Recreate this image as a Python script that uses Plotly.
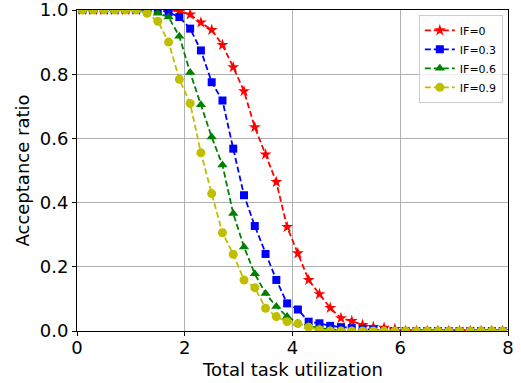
import plotly.graph_objects as go

x_util = [0.1, 0.3, 0.5, 0.7, 0.9, 1.1, 1.3, 1.5, 1.7, 1.9,
          2.1, 2.3, 2.5, 2.7, 2.9, 3.1, 3.3, 3.5, 3.7, 3.9,
          4.1, 4.3, 4.5, 4.7, 4.9, 5.1, 5.3, 5.5, 5.7, 5.9,
          6.1, 6.3, 6.5, 6.7, 6.9, 7.1, 7.3, 7.5, 7.7, 7.9]

if_0 = [1.0, 1.0, 1.0, 1.0, 1.0, 1.0, 1.0, 1.0, 1.0, 0.995,
        0.986, 0.961, 0.938, 0.891, 0.822, 0.747, 0.635, 0.550, 0.464, 0.324,
        0.242, 0.159, 0.115, 0.072, 0.040, 0.031, 0.019, 0.013, 0.010, 0.006,
        0.0, 0.0, 0.0, 0.0, 0.0, 0.0, 0.0, 0.0, 0.0, 0.0]

if_03 = [1.0, 1.0, 1.0, 1.0, 1.0, 1.0, 1.0, 1.0, 0.993, 0.978,
         0.942, 0.874, 0.775, 0.718, 0.568, 0.423, 0.327, 0.240, 0.159, 0.086,
         0.067, 0.029, 0.024, 0.016, 0.012, 0.009, 0.006, 0.004, 0.0, 0.0,
         0.0, 0.0, 0.0, 0.0, 0.0, 0.0, 0.0, 0.0, 0.0, 0.0]

if_06 = [1.0, 1.0, 1.0, 1.0, 1.0, 1.0, 1.0, 0.990, 0.978, 0.918,
         0.805, 0.705, 0.604, 0.517, 0.366, 0.262, 0.178, 0.117, 0.076, 0.045,
         0.025, 0.015, 0.009, 0.005, 0.002, 0.0, 0.0, 0.0, 0.0, 0.0,
         0.0, 0.0, 0.0, 0.0, 0.0, 0.0, 0.0, 0.0, 0.0, 0.0]

if_09 = [1.0, 1.0, 1.0, 1.0, 1.0, 1.0, 0.990, 0.965, 0.900, 0.784,
         0.709, 0.555, 0.428, 0.306, 0.239, 0.159, 0.135, 0.071, 0.045, 0.029,
         0.023, 0.012, 0.004, 0.0, 0.0, 0.0, 0.0, 0.0, 0.0, 0.0,
         0.0, 0.0, 0.0, 0.0, 0.0, 0.0, 0.0, 0.0, 0.0, 0.0]

series_names = ["IF=0", "IF=0.3", "IF=0.6", "IF=0.9"]
series_values = [if_0, if_03, if_06, if_09]
colors = ["#ff0000", "#0000ff", "#008000", "#bfbf00"]
symbols = ["star", "square", "triangle-up", "circle"]
sizes = [9, 8, 9, 9]

x_ticks = [0, 2, 4, 6, 8]
y_ticks = [0.0, 0.2, 0.4, 0.6, 0.8, 1.0]

FONT = "DejaVu Sans"

fig = go.Figure()
for name, vals, col, sym, sz in zip(series_names, series_values, colors, symbols, sizes):
    fig.add_trace(go.Scatter(
        x=x_util, y=vals, name=name, mode="lines+markers",
        line=dict(color=col, width=1.8, dash="6px,3px"),
        marker=dict(color=col, symbol=sym, size=sz, line=dict(width=0)),
        cliponaxis=True,
    ))

axis_common = dict(
    showline=True, linecolor="black", linewidth=1, mirror=True,
    ticks="outside", ticklen=4, tickwidth=1, tickcolor="black",
    showgrid=True, gridcolor="#b0b0b0", gridwidth=1,
    zeroline=False, automargin=False, ticklabeloverflow="allow",
    tickfont=dict(family=FONT, size=18, color="black"),
)

fig.update_xaxes(range=[0, 8], tickvals=x_ticks, ticktext=[str(v) for v in x_ticks],
                 ticklabelstandoff=-4, **axis_common)
fig.update_yaxes(range=[0, 1], tickvals=y_ticks, ticktext=["%.1f" % v for v in y_ticks],
                 **axis_common)

# axis titles as annotations for exact placement
fig.add_annotation(text="Total task utilization", xref="paper", yref="paper",
                   x=0.5, y=0, yshift=-38, xanchor="center", yanchor="middle",
                   showarrow=False, font=dict(family=FONT, size=18, color="black"))
fig.add_annotation(text="Acceptance ratio", xref="paper", yref="paper",
                   x=0, y=0.5, xshift=-55, xanchor="center", yanchor="middle",
                   textangle=-90, showarrow=False,
                   font=dict(family=FONT, size=18, color="black"))

fig.update_layout(
    width=521, height=383,
    margin=dict(l=77, r=13, t=9.5, b=52, autoexpand=False),
    paper_bgcolor="white", plot_bgcolor="white",
    font=dict(family=FONT, color="black"),
    legend=dict(
        x=0.988, y=0.985, xanchor="right", yanchor="top",
        bgcolor="rgba(255,255,255,0.8)", bordercolor="#cccccc", borderwidth=1,
        font=dict(family=FONT, size=11, color="black"),
        itemwidth=30, tracegroupgap=0,
    ),
    showlegend=True,
)

fig.write_html("out.html", config={"displayModeBar": False},
               post_script="document.body.style.margin='0px';document.body.style.padding='0px';")
